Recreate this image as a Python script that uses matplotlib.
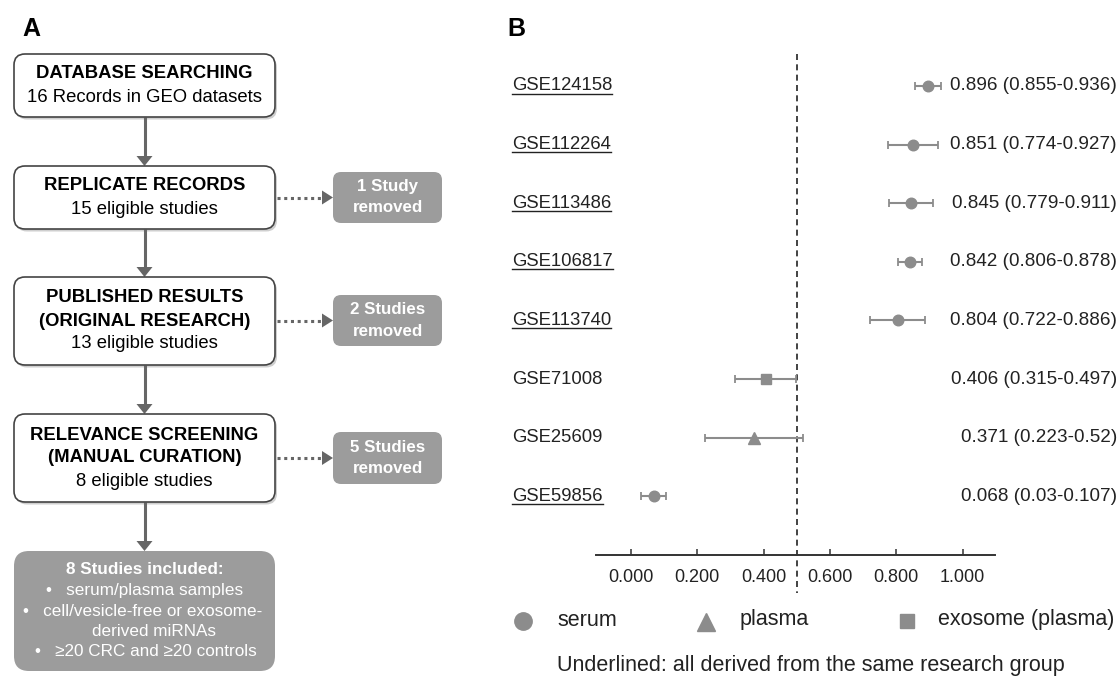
import matplotlib
matplotlib.use('Agg')
import matplotlib.pyplot as plt
from matplotlib.patches import FancyBboxPatch, Polygon
from matplotlib import transforms

plt.rcParams['font.family'] = ['Liberation Sans', 'DejaVu Sans']

# ---------------- Panel A data ----------------
stage_titles = [["DATABASE SEARCHING"],
                ["REPLICATE RECORDS"],
                ["PUBLISHED RESULTS", "(ORIGINAL RESEARCH)"],
                ["RELEVANCE SCREENING", "(MANUAL CURATION)"]]
stage_counts = ["16 Records in GEO datasets", "15 eligible studies",
                "13 eligible studies", "8 eligible studies"]
removed_labels = [None, ["1 Study", "removed"], ["2 Studies", "removed"],
                  ["5 Studies", "removed"]]
included_title = "8 Studies included:"
included_lines = ["\u2022   serum/plasma samples",
                  "\u2022   cell/vesicle-free or exosome-",
                  "derived miRNAs",
                  "\u2022   \u226520 CRC and \u226520 controls"]

# ---------------- Panel B data ----------------
studies = ["GSE124158", "GSE112264", "GSE113486", "GSE106817",
           "GSE113740", "GSE71008", "GSE25609", "GSE59856"]
auc = [0.896, 0.851, 0.845, 0.842, 0.804, 0.406, 0.371, 0.068]
ci_low = [0.855, 0.774, 0.779, 0.806, 0.722, 0.315, 0.223, 0.03]
ci_high = [0.936, 0.927, 0.911, 0.878, 0.886, 0.497, 0.52, 0.107]
sample_type = ["serum", "serum", "serum", "serum", "serum",
               "exosome (plasma)", "plasma", "serum"]
same_group = [True, True, True, True, True, False, False, True]
x_ticks = [0.0, 0.2, 0.4, 0.6, 0.8, 1.0]
legend_types = ["serum", "plasma", "exosome (plasma)"]
footnote = "Underlined: all derived from the same research group"

marker_of = {"serum": "o", "plasma": "^", "exosome (plasma)": "s"}
msize_of = {"serum": 7.6, "plasma": 8.6, "exosome (plasma)": 7.4}
GREY = '#8c8c8c'
DARK = '#666666'

W, H = 1118, 677
fig = plt.figure(figsize=(W / 100, H / 100), dpi=100)

# overlay axes in pixel coordinates
ax0 = fig.add_axes([0, 0, 1, 1])
ax0.set_xlim(0, W)
ax0.set_ylim(H, 0)
ax0.axis('off')

# panel labels
ax0.text(31, 29, "A", fontsize=18, fontweight='bold', ha='center', va='center')
ax0.text(516, 29, "B", fontsize=18, fontweight='bold', ha='center', va='center')

# ---- flowchart ----
bx0, bx1 = 14, 275
stage_y = [(54, 117), (166, 229), (277, 365), (414, 502)]
incl_y = (551, 671)
rem_x0, rem_x1 = 333, 442
rem_y = [None, (172, 223), (295, 346), (432, 484)]
cx = (bx0 + bx1) / 2

for i, (y0, y1) in enumerate(stage_y):
    sh = FancyBboxPatch((bx0 + 2, y0 + 2.5), bx1 - bx0, y1 - y0,
                        boxstyle="round,pad=0,rounding_size=11",
                        fc='#cfcfcf', ec='none', zorder=1)
    ax0.add_patch(sh)
    bp = FancyBboxPatch((bx0, y0), bx1 - bx0, y1 - y0,
                        boxstyle="round,pad=0,rounding_size=11",
                        fc='white', ec='#444444', lw=1.2, zorder=2)
    ax0.add_patch(bp)
    lines = [(t, 'bold') for t in stage_titles[i]] + [(stage_counts[i], 'normal')]
    n = len(lines)
    yc = (y0 + y1) / 2
    for k, (t, w) in enumerate(lines):
        yy = yc + (k - (n - 1) / 2) * 23
        ax0.text(cx, yy, t, fontsize=13.3, fontweight=w, ha='center',
                 va='center', color='black', zorder=3)

    # down arrow to next box
    nxt_top = stage_y[i + 1][0] if i + 1 < len(stage_y) else incl_y[0]
    ax0.plot([cx, cx], [y1, nxt_top - 8], color=DARK, lw=2.2,
             solid_capstyle='butt', zorder=1.5)
    ax0.add_patch(Polygon([[cx - 8, nxt_top - 10], [cx + 8, nxt_top - 10],
                           [cx, nxt_top]], closed=True, fc=DARK, ec='none',
                          zorder=1.5))

    # removed box with dotted arrow
    if removed_labels[i] is not None:
        ry0, ry1 = rem_y[i]
        ryc = (ry0 + ry1) / 2
        ax0.add_patch(FancyBboxPatch((rem_x0, ry0), rem_x1 - rem_x0, ry1 - ry0,
                                     boxstyle="round,pad=0,rounding_size=8",
                                     fc='#9c9c9c', ec='none', zorder=2))
        for k, t in enumerate(removed_labels[i]):
            ax0.text((rem_x0 + rem_x1) / 2, ryc + (k - 0.5) * 21, t,
                     fontsize=12.2, fontweight='bold', color='white',
                     ha='center', va='center', zorder=3)
        ax0.plot([bx1 + 2, rem_x0 - 11], [ryc, ryc], color=DARK, lw=2.2,
                 linestyle=(0, (1, 1.2)), zorder=1.5)
        ax0.add_patch(Polygon([[rem_x0 - 11, ryc - 7], [rem_x0 - 11, ryc + 7],
                               [rem_x0, ryc]], closed=True, fc=DARK,
                              ec='none', zorder=1.5))

# included box
iy0, iy1 = incl_y
ax0.add_patch(FancyBboxPatch((bx0, iy0), bx1 - bx0, iy1 - iy0,
                             boxstyle="round,pad=0,rounding_size=15",
                             fc='#9c9c9c', ec='none', zorder=2))
incl_all = [(included_title, 'bold', cx)] + \
           [(included_lines[0], 'normal', cx), (included_lines[1], 'normal', cx - 2),
            (included_lines[2], 'normal', cx + 10), (included_lines[3], 'normal', cx + 1)]
iyc = (iy0 + iy1) / 2
for k, (t, w, xx) in enumerate(incl_all):
    ax0.text(xx, iyc + (k - 2) * 20.5, t, fontsize=12.3, fontweight=w,
             color='white', ha='center', va='center', zorder=3)

# ---- forest plot ----
ax_l, ax_r, ax_b, ax_t = 596, 995, 555, 40
ax = fig.add_axes([ax_l / W, 1 - ax_b / H, (ax_r - ax_l) / W, (ax_b - ax_t) / H])
ax.patch.set_visible(False)
px_per_unit = 331.7
x0px = 631
ax.set_xlim((ax_l - x0px) / px_per_unit, (ax_r - x0px) / px_per_unit)
row0, row_step = 86, 58.6
ax.set_ylim((ax_b - row0) / row_step, (ax_t - row0) / row_step)

for sp in ['top', 'left', 'right']:
    ax.spines[sp].set_visible(False)
ax.spines['bottom'].set_linewidth(1.4)
ax.spines['bottom'].set_color('#333333')
ax.set_yticks([])
ax.set_xticks(x_ticks)
ax.set_xticklabels([f"{t:.3f}" for t in x_ticks], fontsize=13, color='#222222')
ax.tick_params(axis='x', direction='in', length=4, width=1.1, color='#333333', pad=10)

ys = list(range(len(studies)))
for i in ys:
    st = sample_type[i]
    ax.errorbar([auc[i]], [i], xerr=[[auc[i] - ci_low[i]], [ci_high[i] - auc[i]]],
                fmt='none', ecolor=GREY, elinewidth=1.5, capsize=2.8,
                capthick=1.3, zorder=3, clip_on=False)
    ax.plot([auc[i]], [i], marker=marker_of[st], ms=msize_of[st], color=GREY,
            mec=GREY, linestyle='none', zorder=4, clip_on=False)

# reference dashed line at 0.5
blend = transforms.blended_transform_factory(ax.transData, ax.transAxes)
ax.plot([0.5, 0.5], [(ax_b - 54) / (ax_b - ax_t), (ax_b - 593) / (ax_b - ax_t)],
        transform=blend, color='#222222', lw=1.2, linestyle=(0, (3.6, 2.6)),
        clip_on=False, zorder=2)

# row labels and values
blend_fig = transforms.blended_transform_factory(fig.transFigure, ax.transData)
label_texts = []
for i in ys:
    t = ax.text(512 / W, i, studies[i], transform=blend_fig, fontsize=13.3,
                ha='left', va='center', color='#222222', clip_on=False)
    label_texts.append(t)
    ax.text(1117 / W, i, f"{auc[i]} ({ci_low[i]}-{ci_high[i]})",
            transform=blend_fig, fontsize=13.6, ha='right', va='center',
            color='#222222', clip_on=False)

fig.canvas.draw()
for i, t in enumerate(label_texts):
    if same_group[i]:
        bb = t.get_window_extent()
        ax.plot([bb.x0 / W, bb.x1 / W], [i + 7.5 / row_step] * 2,
                transform=blend_fig, color='#222222', lw=1.0, clip_on=False)

# legend
leg_pos = [(523, 557), (706, 740), (907, 938)]
leg_ms = {"serum": 12.5, "plasma": 12.5, "exosome (plasma)": 10}
leg_my = {"serum": 621, "plasma": 622, "exosome (plasma)": 621}
for (mx, tx), st in zip(leg_pos, legend_types):
    ax0.plot([mx], [leg_my[st]], marker=marker_of[st], ms=leg_ms[st], color=GREY,
             linestyle='none')
    ax0.text(tx, 620, st, fontsize=15.5, ha='left', va='center', color='#222222')

ax0.text(811, 665, footnote, fontsize=15.5, ha='center', va='center', color='#222222')

fig.savefig('out.png', dpi=100)
